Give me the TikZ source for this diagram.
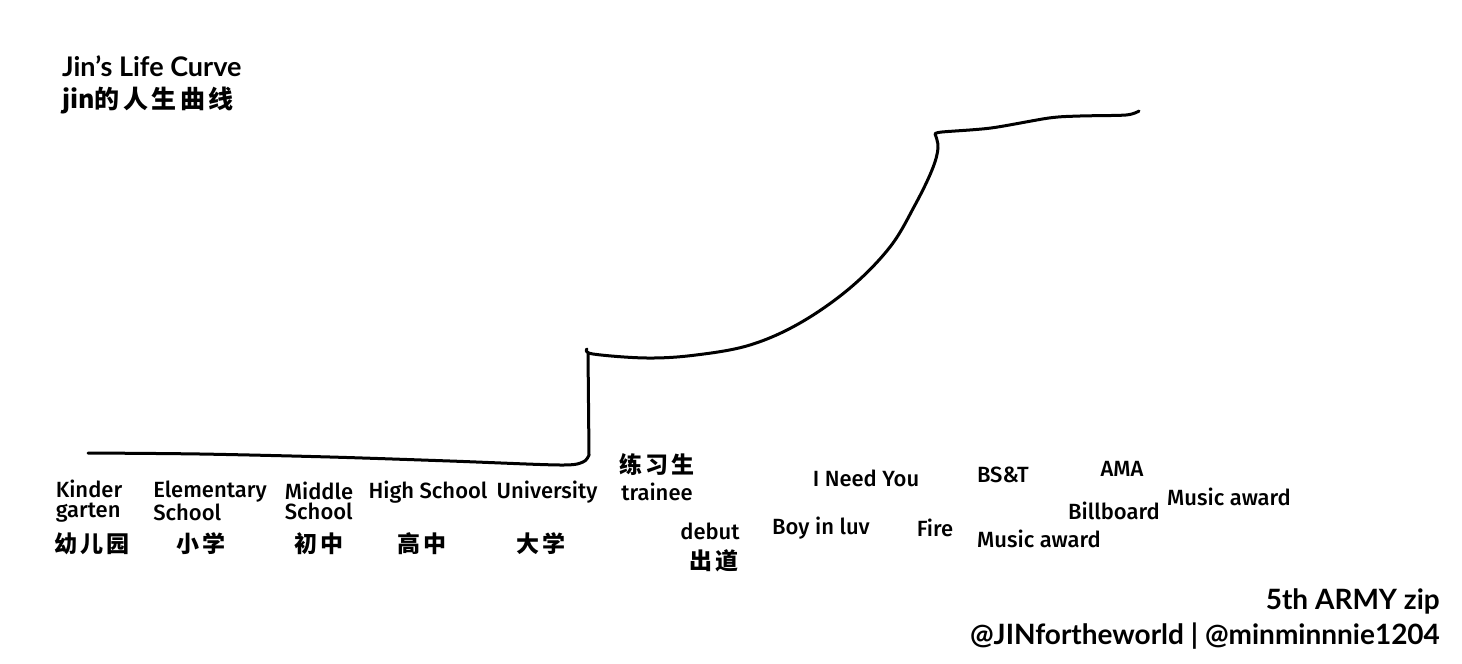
\documentclass[tikz,border=0pt]{standalone}
\usepackage{fontspec}
\setmainfont{Fira Sans}[UprightFont=* Medium]
\newfontfamily\headfont{Lato}
\newfontfamily\cjk{Noto Sans CJK SC}[LetterSpace=14]
\newfontfamily\cjktight{Noto Sans CJK SC}
\usetikzlibrary{positioning}

\begin{document}
\begin{tikzpicture}[
    x=1pt, y=-1pt,
    every node/.style={inner sep=0pt, align=left},
    stage/.style={font=\fontsize{22}{20}\selectfont},
    hanzi/.style={font=\cjk\bfseries\fontsize{23}{26}\selectfont},
    credit/.style={anchor=east, font=\headfont\bfseries\fontsize{28}{30}\selectfont},
    curve/.style={line width=3pt, line cap=round, line join=round}
]
\useasboundingbox (0,0) rectangle (1462,664);

% title
\node[anchor=west, font=\headfont\bfseries\fontsize{27}{30}\selectfont] (title) at (62,66) {Jin’s Life Curve};
\node[anchor=west, hanzi, font=\cjk\bfseries\fontsize{25}{28}\selectfont] (titlecn) at (62,101) {{\cjktight jin}的人生曲线};

% the curve
\draw[curve] plot[smooth, tension=0.5] coordinates {(88,453) (200,454) (330,457) (450,461) (560,465) (583,462) (589,455)}
    -- (588,352)
    plot[smooth, tension=0.6] coordinates {(587,349) (593,354) (647,358) (696,355) (750,345) (800,323) (850,288) (890,247) (915,205) (932,170) (938,148) (935,134)}
    plot[smooth, tension=0.5] coordinates {(935,134) (942,132) (991,128) (1049,118) (1080,116) (1126,115) (1139,111)};

% school years
\node[stage] (kinder) at (89,501) {Kinder\\garten};
\node[stage] (elem) at (210,501) {Elementary\\School};
\node[stage] (middle) at (319,501) {Middle\\School};
\node[stage] (high) at (428,492) {High School};
\node[stage] (univ) at (547,492) {University};
\node[hanzi] (kindercn) at (92,544) {幼儿园};
\node[hanzi] (elemcn) at (201,544) {小学};
\node[hanzi] (middlecn) at (319,544) {初中};
\node[hanzi] (highcn) at (422,544) {高中};
\node[hanzi] (univcn) at (541,544) {大学};

% trainee and debut
\node[hanzi] (traineecn) at (657,465) {练习生};
\node[stage] (trainee) at (657,492) {trainee};
\node[stage] (debut) at (710,531) {debut};
\node[hanzi] (debutcn) at (714,561) {出道};

% songs and awards
\node[stage] (boyinluv) at (821,528) {Boy in luv};
\node[stage] (ineedyou) at (866,478) {I Need You};
\node[stage] (fire) at (935,528) {Fire};
\node[stage] (bst) at (1003,475) {BS\&T};
\node[stage] (award1) at (1039,539) {Music award};
\node[stage] (ama) at (1122,469) {AMA};
\node[stage] (billboard) at (1114,511) {Billboard};
\node[stage] (award2) at (1229,497) {Music award};

% credits
\node[credit] (zip) at (1440,601) {5th ARMY zip};
\node[credit] (handles) at (1440,636) {@JINfortheworld | @minminnnie1204};

\end{tikzpicture}
\end{document}
